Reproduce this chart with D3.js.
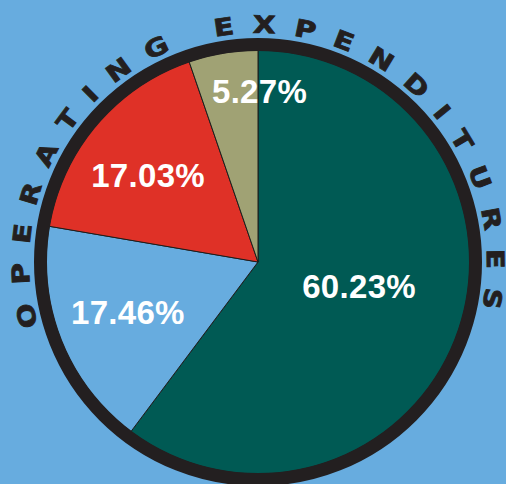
<!DOCTYPE html>
<html>
<head>
<meta charset="utf-8">
<script src="https://cdnjs.cloudflare.com/ajax/libs/d3/7.8.5/d3.min.js"></script>
<style>
  body { margin: 0; background: #67acdf; }
</style>
</head>
<body>
<script>
// chart data
const categories = ["Green", "Blue", "Red", "Tan"]
const shares = [60.23, 17.46, 17.03, 5.27]
const sliceColors = ["#005a54", "#67acdf", "#df3127", "#a0a274"]
const title = "OPERATING EXPENDITURES"

const chart = () => {
        var width = 506,
                height = 484;
        var cx = 258, cy = 262, r = 212;

        var svg = d3.select("body").append("svg")
                .attr("width", width).attr("height", height)
        svg.append("rect").attr("width", width).attr("height", height).attr("fill", "#67acdf")

        let details = categories.map((c, i) => ({ category: c, value: shares[i], color: sliceColors[i] }))
        let data = d3.pie().sort(null).value(d => d.value)(details)

        var segments = d3.arc().innerRadius(0).outerRadius(r)
        var g = svg.append("g").attr("transform", "translate(" + cx + "," + cy + ")")

        g.selectAll("path.slice").data(data).enter().append("path")
                .attr("class", "slice")
                .attr("d", segments)
                .attr("fill", d => d.data.color)
                .attr("stroke", "#1d1d1b")
                .attr("stroke-width", 1)
                .attr("stroke-linejoin", "round")

        // outer dark ring
        g.append("circle").attr("r", 217.5)
                .attr("fill", "none").attr("stroke", "#231f20").attr("stroke-width", 13)

        // label placement: radius and angle nudge (degrees) from each slice's middle
        var nudge = [{ rad: 104, turn: -4.8 }, { rad: 139.5, turn: 0.6 }, { rad: 140, turn: -2.1 }, { rad: 171, turn: 10 }]
        g.selectAll("text.pct").data(data).enter().append("text")
                .attr("class", "pct")
                .each(function (d, i) {
                        var a = (d.startAngle + d.endAngle) / 2 + nudge[i].turn * Math.PI / 180
                        var p = d3.pointRadial(a, nudge[i].rad)
                        d3.select(this).attr("x", p[0]).attr("y", p[1])
                })
                .attr("dy", "0.36em")
                .attr("text-anchor", "middle")
                .attr("fill", "#fff")
                .attr("font-family", "'Liberation Sans', Arial, sans-serif")
                .attr("font-weight", "bold")
                .attr("font-size", 33)
                .attr("letter-spacing", 0.3)
                .text(d => d.data.value.toFixed(2) + "%")

        // curved title, one letter at a time, stretched wide
        var tr = 229, sx = 1.22, gap = 18, fs = 24
        var letters = title.split("")
        var probe = g.append("text").attr("font-family", "'DejaVu Sans', sans-serif")
                .attr("font-weight", "bold").attr("font-size", fs)
        var widths = letters.map(ch => {
                probe.text(ch === " " ? "\u00a0" : ch)
                return probe.node().getComputedTextLength() * sx
        })
        probe.remove()
        var pos = [0]
        for (let i = 1; i < letters.length; i++) {
                pos.push(pos[i - 1] + widths[i - 1] / 2 + gap + widths[i] / 2)
        }
        var shift = -2.1 * Math.PI / 180 - (pos[pos.length - 1] / 2) / tr
        g.selectAll("g.letter").data(letters).enter().append("g")
                .attr("class", "letter")
                .attr("transform", (d, i) => "rotate(" + ((shift + pos[i] / tr) * 180 / Math.PI) + ") translate(0," + (-tr) + ") scale(" + sx + ",1)")
                .append("text")
                .attr("text-anchor", "middle")
                .attr("fill", "#231f20")
                .attr("stroke", "#231f20")
                .attr("stroke-width", 0.8)
                .attr("font-family", "'DejaVu Sans', sans-serif")
                .attr("font-weight", "bold")
                .attr("font-size", fs)
                .text(d => d)
}

chart()
</script>
</body>
</html>
